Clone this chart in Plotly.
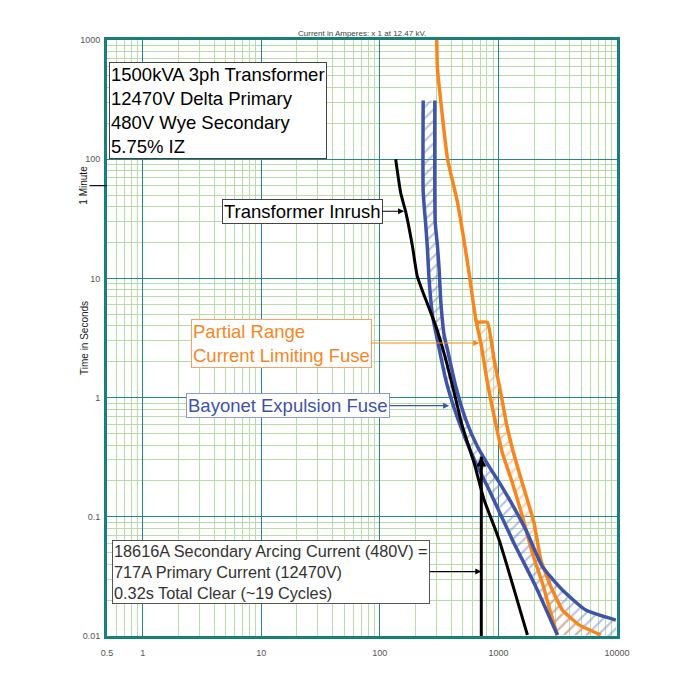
import math
import plotly.graph_objects as go

# ---------------- data ----------------
X_TICKS = [0.5, 1, 10, 100, 1000, 10000]
X_TICK_TEXT = ["0.5", "1", "10", "100", "1000", "10000"]
Y_TICKS = [0.01, 0.1, 1, 10, 100, 1000]
Y_TICK_TEXT = ["0.01", "0.1", "1", "10", "100", "1000"]
X_MIN, X_MAX = 0.5, 10000
Y_MIN, Y_MAX = 0.01, 1000

# Transformer inrush curve (current A, time s)
INRUSH_I = [136, 150, 166, 188, 207, 244, 297, 360, 437, 497, 624, 757, 1014, 1756]
INRUSH_T = [100, 52, 35.5, 18.8, 10.4, 6.64, 3.96, 2.08, 0.965, 0.573, 0.282, 0.139, 0.064, 0.0102]

# Bayonet expulsion fuse: minimum melt and total clear
BLUE_MIN_I = [232, 232, 244, 252, 260, 278, 297, 360, 437, 531, 645, 835, 1312, 2067, 3144]
BLUE_MIN_T = [311, 52.9, 27.8, 17.7, 9.91, 4.87, 3.49, 1.41, 0.742, 0.443, 0.282, 0.168, 0.064, 0.0259, 0.0102]
BLUE_MAX_I = [291, 293, 306, 316, 327, 349, 372, 437, 531, 665, 835, 1081, 1702, 2350, 3465, 5457, 9770]
BLUE_MAX_T = [311, 29.6, 18.86, 12.0, 6.30, 3.31, 2.52, 1.24, 0.652, 0.389, 0.264, 0.176, 0.0777, 0.0382, 0.0243, 0.0165, 0.0136]

# Partial range current limiting fuse: minimum melt and total clear
ORANGE_MIN_I = [302, 306, 327, 372, 451, 548, 645, 711, 808, 920, 1081, 1312, 1594, 1935, 2350, 2766, 3144]
ORANGE_MIN_T = [1000, 575, 301, 101, 43.6, 13.66, 4.51, 2.87, 1.33, 0.695, 0.342, 0.192, 0.1005, 0.0495, 0.0277, 0.0155, 0.0102]
ORANGE_MAX_I = [650, 808, 920, 1047, 1170, 1300, 1460, 1680, 2000, 2278, 2766, 3465, 4790, 7302]
ORANGE_MAX_T = [4.28, 4.28, 2.08, 1.093, 0.60, 0.385, 0.255, 0.16, 0.0885, 0.0435, 0.0259, 0.0165, 0.0124, 0.0102]

ARC_CURRENT = 717      # A primary
ARC_CLEAR_TIME = 0.32  # s
ONE_MINUTE = 60        # s

# arrow targets (current A, time s)
INRUSH_ARROW = (160, 36.6)
ORANGE_ARROW = (688, 2.87)
BLUE_ARROW = (384, 0.855)
ARC_ARROW_T = 0.0347

# ---------------- styles ----------------
BLUE = "#3f53a9"
ORANGE = "#f7861f"
BLACK = "#000000"
TEAL = "#24888a"
BORDER = "#17807c"
MINOR = "#b9dda6"
SMALL_FONT = "Liberation Sans Narrow, Arial Narrow, Liberation Sans, Arial, sans-serif"
BOX_FONT = "Liberation Sans, Arial, sans-serif"

fig = go.Figure()

# hatched bands
blue_poly_x = BLUE_MIN_I + [X_MAX] + BLUE_MAX_I[::-1]
blue_poly_y = BLUE_MIN_T + [Y_MIN] + BLUE_MAX_T[::-1]
fig.add_trace(go.Scatter(
    x=blue_poly_x, y=blue_poly_y, mode="lines", line=dict(width=0),
    fill="toself", fillcolor="rgba(0,0,0,0)",
    fillpattern=dict(shape="/", fgcolor="#6f80cc", bgcolor="rgba(0,0,0,0)", size=8, solidity=0.25),
    hoverinfo="skip", showlegend=False))

om = [(i, t) for i, t in zip(ORANGE_MIN_I, ORANGE_MIN_T) if t < ORANGE_MAX_T[0]]
orange_poly_x = ORANGE_MAX_I + [p[0] for p in om][::-1]
orange_poly_y = ORANGE_MAX_T + [p[1] for p in om][::-1]
fig.add_trace(go.Scatter(
    x=orange_poly_x, y=orange_poly_y, mode="lines", line=dict(width=0),
    fill="toself", fillcolor="rgba(0,0,0,0)",
    fillpattern=dict(shape="/", fgcolor="#f7a060", bgcolor="rgba(0,0,0,0)", size=8, solidity=0.25),
    hoverinfo="skip", showlegend=False))

# curves
for xs, ys, col, smooth in [
    (ORANGE_MIN_I, ORANGE_MIN_T, ORANGE, 0.5),
    (ORANGE_MAX_I, ORANGE_MAX_T, ORANGE, 0.35),
    (BLUE_MIN_I, BLUE_MIN_T, BLUE, 0.5),
    (BLUE_MAX_I, BLUE_MAX_T, BLUE, 0.5),
    (INRUSH_I, INRUSH_T, BLACK, 0.5),
]:
    line = dict(color=col, width=3.5 if col != BLACK else 3, shape="spline", smoothing=smooth)
    fig.add_trace(go.Scatter(x=xs, y=ys, mode="lines", line=line,
                             hoverinfo="skip", showlegend=False))

# arcing current vertical line
fig.add_trace(go.Scatter(x=[ARC_CURRENT, ARC_CURRENT], y=[Y_MIN, ARC_CLEAR_TIME], mode="lines",
                         line=dict(color=BLACK, width=3), hoverinfo="skip", showlegend=False))

L = math.log10
annotations = []

# top axis title
annotations.append(dict(text="Current in Amperes: x 1 at 12.47 kV.", xref="paper", yref="paper",
                        x=0.5, y=1, xanchor="center", yanchor="bottom", yshift=0, showarrow=False,
                        font=dict(size=8, color="#444", family=SMALL_FONT)))
# y title
annotations.append(dict(text="Time in Seconds", xref="paper", yref="paper", x=0, y=0.5,
                        xanchor="center", yanchor="middle",
                        xshift=-23, textangle=-90, showarrow=False,
                        font=dict(size=10, color="#222", family=SMALL_FONT)))
# 1 minute marker
annotations.append(dict(text="1 Minute", xref="paper", yref="y", x=0, y=L(ONE_MINUTE),
                        xanchor="center", yanchor="middle",
                        xshift=-23, yshift=0, textangle=-90, showarrow=False,
                        font=dict(size=10, color="#111", family=SMALL_FONT)))
annotations.append(dict(text="", xref="paper", yref="y", x=0, y=L(ONE_MINUTE), ax=-19, ay=0,
                        showarrow=True, arrowhead=0, arrowwidth=1.3, arrowcolor="#111"))

# info box
annotations.append(dict(
    text="1500kVA 3ph Transformer<br>12470V Delta Primary<br>480V Wye Secondary<br>5.75% IZ",
    xref="paper", yref="paper", x=(109 - 107) / 510, y=1 - (62 - 40) / 596,
    xanchor="left", yanchor="top", align="left", showarrow=False,
    font=dict(size=18.5, color="#000", family=BOX_FONT),
    bgcolor="white", bordercolor="#444", borderwidth=1, borderpad=1))

# labels with arrows
def label(text, head, ax, color, border, fontsize=18.5, align="center", arrowcolor=None):
    annotations.append(dict(
        text=text, x=L(head[0]), y=L(head[1]), xref="x", yref="y",
        ax=ax, ay=0, showarrow=True, arrowhead=2, arrowsize=1, arrowwidth=1.2,
        arrowcolor=arrowcolor or color, align=align,
        font=dict(size=fontsize, color=color, family=BOX_FONT),
        bgcolor="white", bordercolor=border, borderwidth=1, borderpad=1))

label("Transformer Inrush", INRUSH_ARROW, -102, "#000", "#444")
label("Partial Range<br>Current Limiting Fuse", ORANGE_ARROW, -198, ORANGE, "#f6a365", align="left")
label("Bayonet Expulsion Fuse", BLUE_ARROW, -161, BLUE, "#8c99d2")
label("18616A Secondary Arcing Current (480V) =<br>717A Primary Current (12470V)<br>0.32s Total Clear (~19 Cycles)",
      (ARC_CURRENT, ARC_ARROW_T), -210, "#333", "#555", fontsize=16.3, align="left", arrowcolor="#000")

# arrow head on top of the arcing current line
annotations.append(dict(text="", x=L(ARC_CURRENT), y=L(ARC_CLEAR_TIME), xref="x", yref="y",
                        ax=0, ay=14, showarrow=True, arrowhead=2, arrowsize=0.8, arrowwidth=2.5,
                        arrowcolor="#000"))

axis_common = dict(
    type="log", showgrid=True, gridcolor=TEAL, gridwidth=1.2,
    minor=dict(dtick="D1", showgrid=True, gridcolor=MINOR, gridwidth=1, ticks=""),
    showline=True, mirror=True, linecolor=BORDER, linewidth=3, ticks="", zeroline=False,
    tickfont=dict(size=9, color="#555", family=SMALL_FONT),
)

fig.update_layout(
    width=699, height=674,
    margin=dict(l=107, r=82, t=40, b=38),
    paper_bgcolor="white", plot_bgcolor="white",
    xaxis=dict(range=[L(X_MIN), L(X_MAX)], tickvals=X_TICKS, ticktext=X_TICK_TEXT,
               ticklabelstandoff=6, **axis_common),
    yaxis=dict(range=[L(Y_MIN), L(Y_MAX)], tickvals=Y_TICKS, ticktext=Y_TICK_TEXT,
               ticklabelstandoff=2, **axis_common),
    annotations=annotations,
    showlegend=False,
)

fig.write_html("out.html")
